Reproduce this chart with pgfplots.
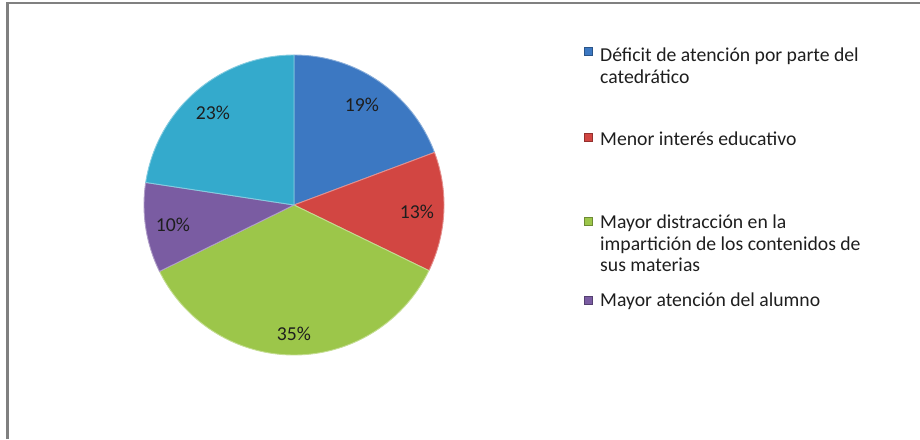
\documentclass[border=0pt]{standalone}
\usepackage{pgfplots}
\usepackage{pgfplotstable}
\pgfplotsset{compat=1.18}
\usepackage{fontspec}
\setmainfont{Carlito}
\definecolor{pieblue}{RGB}{60,120,194}
\definecolor{piered}{RGB}{210,70,66}
\definecolor{piegreen}{RGB}{156,198,74}
\definecolor{piepurple}{RGB}{122,92,162}
\definecolor{piecyan}{RGB}{52,170,204}
\definecolor{framegray}{RGB}{128,128,128}
\definecolor{txt}{RGB}{30,30,30}

\pgfplotstableread{
value
19.3
12.9
35.5
9.7
22.6
}\piedata

\begin{document}%
\pgfplotstablegetelem{0}{value}\of\piedata\let\vA\pgfplotsretval%
\pgfplotstablegetelem{1}{value}\of\piedata\let\vB\pgfplotsretval%
\pgfplotstablegetelem{2}{value}\of\piedata\let\vC\pgfplotsretval%
\pgfplotstablegetelem{3}{value}\of\piedata\let\vD\pgfplotsretval%
\pgfplotstablegetelem{4}{value}\of\piedata\let\vE\pgfplotsretval%
\pgfmathsetmacro\aA{90}%
\pgfmathsetmacro\aB{\aA-3.6*\vA}%
\pgfmathsetmacro\aC{\aB-3.6*\vB}%
\pgfmathsetmacro\aD{\aC-3.6*\vC}%
\pgfmathsetmacro\aE{\aD-3.6*\vD}%
\pgfmathsetmacro\aF{\aE-3.6*\vE}%
\begin{tikzpicture}
\begin{axis}[
  width=920pt, height=439pt, scale only axis,
  xmin=0, xmax=920, ymin=0, ymax=439, y dir=reverse,
  hide axis, clip=false,
]
% frame
\draw[framegray, line width=2.2pt] (axis cs:7.5,439) -- (axis cs:7.5,3) -- (axis cs:920,3);

\pgfplotsset{slice/.style={line width=0.9pt, samples=60, smooth}}
\addplot[slice, fill=pieblue, draw=pieblue!60!white, domain=\aB:\aA] ({294+150*cos(x)},{205-150*sin(x)}) -- (axis cs:294,205) -- cycle;
\addplot[slice, fill=piered, draw=piered!60!white, domain=\aC:\aB] ({294+150*cos(x)},{205-150*sin(x)}) -- (axis cs:294,205) -- cycle;
\addplot[slice, fill=piegreen, draw=piegreen!60!white, domain=\aD:\aC] ({294+150*cos(x)},{205-150*sin(x)}) -- (axis cs:294,205) -- cycle;
\addplot[slice, fill=piepurple, draw=piepurple!60!white, domain=\aE:\aD] ({294+150*cos(x)},{205-150*sin(x)}) -- (axis cs:294,205) -- cycle;
\addplot[slice, fill=piecyan, draw=piecyan!60!white, domain=\aF:\aE] ({294+150*cos(x)},{205-150*sin(x)}) -- (axis cs:294,205) -- cycle;

% data labels
\begin{scope}[every node/.style={font=\fontsize{19.7}{22}\selectfont, text=txt}]
\node at (axis cs:362,105) {19\%};
\node at (axis cs:417,212) {13\%};
\node at (axis cs:294,334) {35\%};
\node at (axis cs:173,225) {10\%};
\node at (axis cs:213,113) {23\%};
\end{scope}

% legend
\begin{scope}[every node/.style={font=\fontsize{19.7}{22}\selectfont, text=txt, anchor=base west, inner sep=0pt}]
\fill[pieblue, draw=pieblue!70!black, line width=0.3pt] (axis cs:584,47) rectangle (axis cs:592,55);
\node at (axis cs:600,61.5) {Déficit de atención por parte del};
\node at (axis cs:600,83.2) {catedrático};
\fill[piered, draw=piered!70!black, line width=0.3pt] (axis cs:584,133) rectangle (axis cs:592,141);
\node at (axis cs:600,145) {Menor interés educativo};
\fill[piegreen, draw=piegreen!70!black, line width=0.3pt] (axis cs:584,217.5) rectangle (axis cs:592,225.5);
\node at (axis cs:600,228.3) {Mayor distracción en la};
\node at (axis cs:600,250) {impartición de los contenidos de};
\node at (axis cs:600,271.7) {sus materias};
\fill[piepurple, draw=piepurple!70!black, line width=0.3pt] (axis cs:584,296) rectangle (axis cs:592,304);
\node at (axis cs:600,306.7) {Mayor atención del alumno};
\end{scope}
\end{axis}
\pgfresetboundingbox
\path (current axis.south west) rectangle (current axis.north east);
\end{tikzpicture}%
\end{document}
